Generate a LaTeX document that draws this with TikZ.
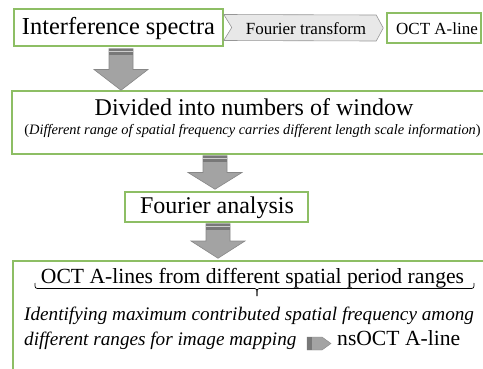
\documentclass[tikz,border=0pt]{standalone}
\usepackage{fontspec}
\newfontfamily\tnr{Liberation Serif}
\usetikzlibrary{calc}
\definecolor{boxgreen}{RGB}{141,190,100}
\definecolor{arrowgray}{RGB}{163,163,163}
\definecolor{arrowedge}{RGB}{135,135,135}
\definecolor{stripedark}{RGB}{120,120,120}
\definecolor{stripelight}{RGB}{205,205,205}
\definecolor{chevfill}{RGB}{232,232,232}
\definecolor{chevedge}{RGB}{150,150,150}
\newcommand\fatarrow[2]{%
  \coordinate (fam) at ($(#1)!0.5!(#2)$);
  \draw[bigarrow] ($(#1)+(-12,0)$) -- ($(#1)+(12,0)$) -- ($(fam)+(12,0)$) -- ($(fam)+(27,0)$) -- (#2) -- ($(fam)+(-27,0)$) -- ($(fam)+(-12,0)$) -- cycle;
  \fill[stripedark] ($(#1)+(-11.7,0.3)$) rectangle ($(#1)+(11.7,2.5)$);
  \fill[stripelight] ($(#1)+(-11.7,2.5)$) rectangle ($(#1)+(11.7,3.6)$);
  \fill[stripedark] ($(#1)+(-11.7,3.6)$) rectangle ($(#1)+(11.7,6)$);
}
\begin{document}
\begin{tikzpicture}[x=1pt,y=-1pt,
  gbox/.style={draw=boxgreen,line width=1.5pt,fill=white,inner sep=0pt},
  bigarrow/.style={draw=arrowedge,line width=0.6pt,fill=arrowgray},
  chevron/.style={draw=chevedge,line width=0.6pt,fill=chevfill},
  bracepath/.style={draw=black,line width=0.7pt},
  txt/.style={inner sep=0pt,anchor=base,font=\tnr\fontsize{#1pt}{#1pt}\selectfont},
  txtw/.style={inner sep=0pt,anchor=base west,font=\tnr\fontsize{#1pt}{#1pt}\selectfont}]
\useasboundingbox (0,0) rectangle (483,368);
\clip (0,0) rectangle (483,368);

% top row
\node[gbox,minimum width=209pt,minimum height=37pt] (spectra) at (118.5,27.5) {};
\node[txt=24.4] (spectraT) at (118.5,34) {Interference spectra};
\node[gbox,minimum width=94pt,minimum height=30pt] (octbox) at (434,28) {};
\node[txt=17] (octT) at (437,34) {OCT A-line};
\coordinate (chL) at (spectra.east);
\coordinate (chR) at ($(octbox.west)+(-3,0)$);
\draw[chevron] ($(chL)+(0,-13)$) -- ($(chR)+(-7,-13)$) -- (chR) -- ($(chR)+(-7,13)$) -- ($(chL)+(0,13)$) -- ($(chL)+(8,0)$) -- cycle;
\node[txt=17] (ftT) at (306,34) {Fourier transform};

% box 2
\node[gbox,minimum width=481pt,minimum height=63pt] (divided) at (252.5,122.5) {};
\node[txt=24] (dividedT) at (254,115) {Divided into numbers of window};
\node[txt=14.4] (dividedS) at (252.5,134) {\textup{(}\textit{Different range of spatial frequency carries different length scale information}\textup{)}};

% box 3
\node[gbox,minimum width=183pt,minimum height=30pt] (analysis) at (216.5,207) {};
\node[txt=24] (analysisT) at (217,213) {Fourier analysis};

% box 4
\node[gbox,minimum width=479pt,minimum height=139pt] (lines) at (252.5,330.5) {};
\node[txt=21.6] (linesT) at (252.5,283) {OCT A-lines from different spatial period ranges};
\draw[bracepath] (35,283) .. controls (35,288.5) .. (40,288.5) -- (253,288.5) .. controls (257,288.5) .. (257,296);
\draw[bracepath] (257,296) .. controls (257,288.5) .. (261,288.5) -- (469,288.5) .. controls (474,288.5) .. (474,283);
\node[txtw=19.2] (ident1) at (24,320) {\textit{Identifying maximum contributed spatial frequency among}};
\node[txtw=19.2] (ident2) at (24,345) {\textit{different ranges for image mapping}};
\node[txtw=21.6] (nsoct) at (337,345) {nsOCT A-line};
\draw[draw=arrowedge,line width=0.4pt,fill=arrowgray] (307,337) -- (322,337) -- (331,343.5) -- (322,350) -- (307,350) -- cycle;
\fill[stripedark] (307.3,337.3) rectangle (312,349.7);

% block arrows
\coordinate (a1t) at ($(spectra.south)+(2.5,2)$);
\coordinate (a1b) at (a1t |- divided.north);
\fatarrow{a1t}{a1b}
\coordinate (a2t) at ($(analysis.north |- divided.south)+(-1.5,1)$);
\coordinate (a2b) at ($(analysis.north)+(-1.5,-2)$);
\fatarrow{a2t}{a2b}
\coordinate (a3t) at ($(analysis.south)+(1.5,1)$);
\coordinate (a3bb) at (a3t |- lines.north);
\coordinate (a3b) at ($(a3bb)+(0,-2)$);
\fatarrow{a3t}{a3b}
\end{tikzpicture}
\end{document}
